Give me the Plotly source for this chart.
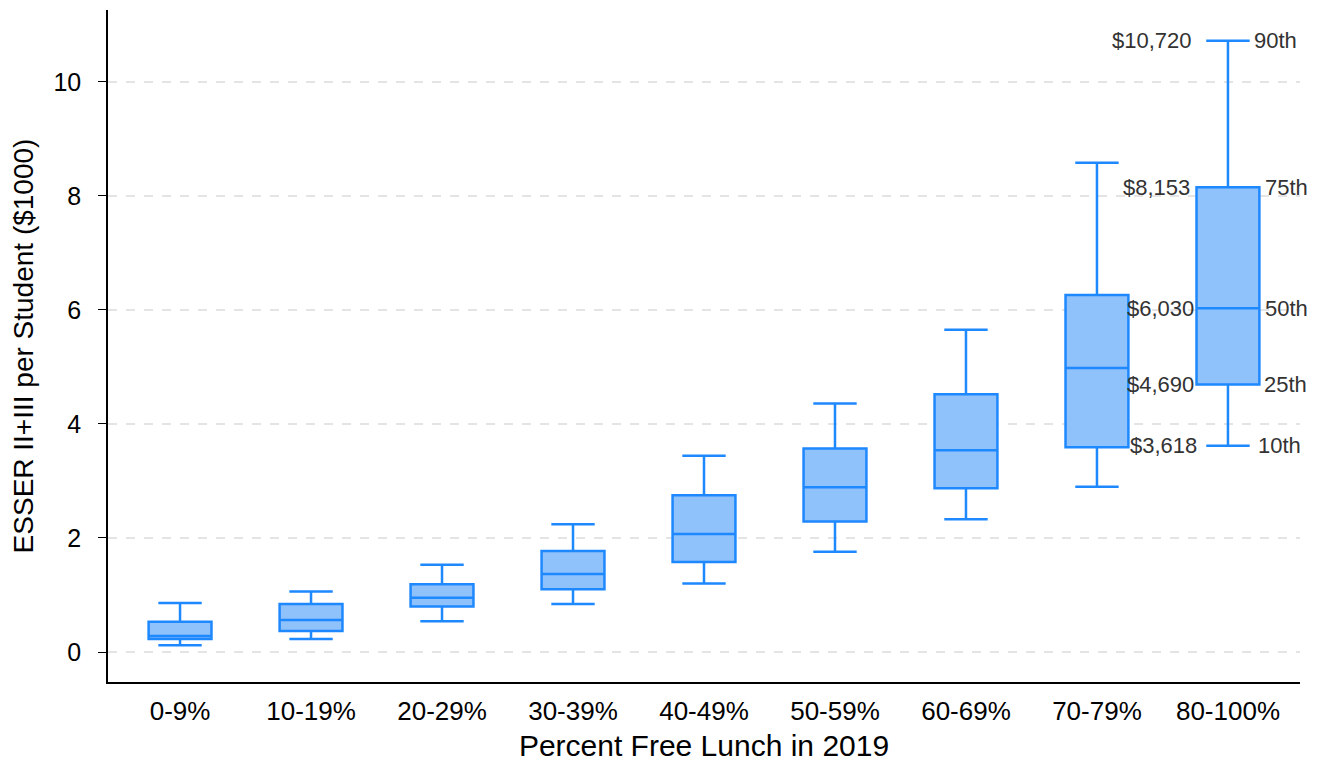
import plotly.graph_objects as go

categories = ["0-9%", "10-19%", "20-29%", "30-39%", "40-49%", "50-59%", "60-69%", "70-79%", "80-100%"]
p10 = [0.12, 0.23, 0.54, 0.84, 1.20, 1.76, 2.33, 2.90, 3.618]
p25 = [0.23, 0.37, 0.80, 1.10, 1.58, 2.29, 2.87, 3.59, 4.690]
p50 = [0.28, 0.56, 0.95, 1.37, 2.07, 2.89, 3.54, 4.98, 6.030]
p75 = [0.53, 0.84, 1.19, 1.77, 2.75, 3.57, 4.52, 6.26, 8.153]
p90 = [0.86, 1.06, 1.53, 2.24, 3.44, 4.36, 5.65, 8.58, 10.720]

pct_labels = ["10th", "25th", "50th", "75th", "90th"]
dollar_labels = ["$3,618", "$4,690", "$6,030", "$8,153", "$10,720"]
last_vals = [p10[-1], p25[-1], p50[-1], p75[-1], p90[-1]]

line_col = "#1E88FF"
fill_col = "rgba(143,193,251,1)"
FONT = "Liberation Sans, Arial"

fig = go.Figure()
fig.add_trace(go.Box(
    x=categories, q1=p25, median=p50, q3=p75,
    lowerfence=p10, upperfence=p90,
    fillcolor=fill_col, line=dict(color=line_col, width=2.5),
    whiskerwidth=0.69, boxpoints=False, showlegend=False, hoverinfo="skip",
))

left_shift = [-29, -32, -32, -36, -34]
right_shift = [28, 34, 35, 35, 24]
for v, d, p, ls, rs in zip(last_vals, dollar_labels, pct_labels, left_shift, right_shift):
    fig.add_annotation(x=categories[-1], y=v, text=d, showarrow=False,
                       xanchor="right", yanchor="middle", xshift=ls,
                       font=dict(family=FONT, size=22, color="#333333"))
    fig.add_annotation(x=categories[-1], y=v, text=p, showarrow=False,
                       xanchor="left", yanchor="middle", xshift=rs,
                       font=dict(family=FONT, size=22, color="#333333"))

fig.update_layout(
    width=1304, height=754,
    margin=dict(l=100, r=12, t=2, b=80),
    paper_bgcolor="white", plot_bgcolor="white",
    boxgap=0.52, boxgroupgap=0,
    font=dict(family=FONT, color="black"),
    xaxis=dict(
        type="category", range=[-0.55, 8.55], automargin=False,
        showline=True, linecolor="black", linewidth=1.5,
        ticks="", showgrid=False,
        tickfont=dict(size=26), ticklabelstandoff=5,
        title=dict(text="Percent Free Lunch in 2019", font=dict(size=30), standoff=12),
    ),
    yaxis=dict(
        range=[-0.526, 11.26],
        tickvals=[0, 2, 4, 6, 8, 10],
        showline=True, linecolor="black", linewidth=1.5,
        ticks="outside", ticklen=8, tickcolor="black",
        showgrid=True, gridcolor="#E4E4E4", griddash="dash", gridwidth=1.5,
        zeroline=False,
        tickfont=dict(size=25), ticklabelstandoff=12,
        title=dict(text="ESSER II+III per Student ($1000)", font=dict(size=28), standoff=14),
    ),
)

fig.write_html("out.html")
